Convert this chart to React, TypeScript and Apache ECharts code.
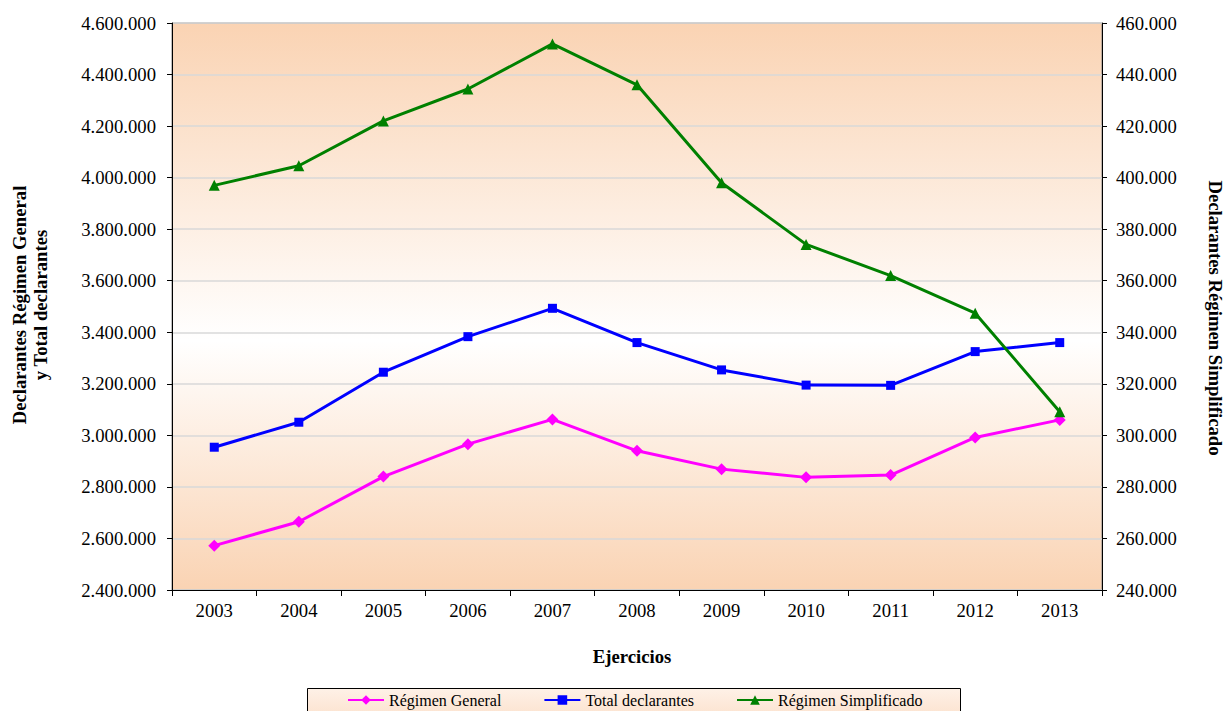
import React, { useEffect, useRef } from "react";
import * as echarts from "echarts";

const years = ["2003", "2004", "2005", "2006", "2007", "2008", "2009", "2010", "2011", "2012", "2013"];
const regimenGeneral = [2572000, 2665000, 2840000, 2966000, 3062000, 2940000, 2869000, 2837000, 2846000, 2992000, 3060000];
const totalDeclarantes = [2954000, 3051000, 3245000, 3383000, 3493000, 3360000, 3254000, 3195000, 3194000, 3325000, 3360000];
const regimenSimplificado = [397000, 404600, 422000, 434400, 451900, 436000, 398000, 374100, 362000, 347400, 309200];

const FONT = "'Liberation Serif', 'Times New Roman', serif";

// 4600000 -> "4.600.000"
const fmt = (v: number) => String(Math.round(v)).replace(/\B(?=(\d{3})+(?!\d))/g, ".");

export default function App() {
  const ref = useRef<HTMLDivElement>(null);

  useEffect(() => {
    if (!ref.current) return;
    const chart = echarts.init(ref.current, undefined, { renderer: "svg" });
    const peach = "#FAD3B3";
    chart.setOption({
      animation: false,
      backgroundColor: "#ffffff",
      textStyle: { fontFamily: FONT },
      grid: {
        left: 172,
        right: 123,
        top: 23,
        bottom: 121,
        show: true,
        borderColor: "#808080",
        borderWidth: 1,
        backgroundColor: {
          type: "linear",
          x: 0,
          y: 0,
          x2: 0,
          y2: 1,
          colorStops: [
            { offset: 0, color: peach },
            { offset: 0.56, color: "#FFFFFF" },
            { offset: 1, color: peach },
          ],
        },
      },
      legend: {
        left: 347,
        top: 692,
        padding: 0,
        itemWidth: 36,
        itemHeight: 12,
        itemGap: 42,
        textStyle: { fontFamily: FONT, fontSize: 16, color: "#000" },
        data: ["Régimen General", "Total declarantes", "Régimen Simplificado"],
      },
      xAxis: {
        type: "category",
        data: years,
        boundaryGap: true,
        axisLine: { lineStyle: { color: "#000", width: 1 } },
        axisTick: { show: true, length: 6, lineStyle: { color: "#000" } },
        axisLabel: { fontFamily: FONT, fontSize: 18.7, color: "#000", margin: 11 },
        splitLine: { show: false },
      },
      yAxis: [
        {
          type: "value",
          min: 2400000,
          max: 4600000,
          interval: 200000,
          position: "left",
          axisLine: { show: true, lineStyle: { color: "#000", width: 1 } },
          axisTick: { show: true, length: 5, lineStyle: { color: "#000" } },
          axisLabel: { fontFamily: FONT, fontSize: 18.7, color: "#000", margin: 16, formatter: fmt },
          splitLine: { show: true, lineStyle: { color: "#D9D9D9", width: 1.5 } },
        },
        {
          type: "value",
          min: 240000,
          max: 460000,
          interval: 20000,
          position: "right",
          axisLine: { show: true, lineStyle: { color: "#000", width: 1 } },
          axisTick: { show: true, length: 5, lineStyle: { color: "#000" } },
          axisLabel: { fontFamily: FONT, fontSize: 18.7, color: "#000", margin: 14, formatter: fmt },
          splitLine: { show: false },
        },
      ],
      series: [
        {
          name: "Régimen General",
          type: "line",
          yAxisIndex: 0,
          data: regimenGeneral,
          symbol: "diamond",
          symbolSize: 12,
          color: "#FF00FF",
          lineStyle: { color: "#FF00FF", width: 3 },
          itemStyle: { color: "#FF00FF" },
          z: 3,
        },
        {
          name: "Total declarantes",
          type: "line",
          yAxisIndex: 0,
          data: totalDeclarantes,
          symbol: "rect",
          symbolSize: 9,
          color: "#0000FF",
          lineStyle: { color: "#0000FF", width: 3 },
          itemStyle: { color: "#0000FF" },
          z: 3,
        },
        {
          name: "Régimen Simplificado",
          type: "line",
          yAxisIndex: 1,
          data: regimenSimplificado,
          symbol: "triangle",
          symbolSize: 11,
          color: "#008000",
          lineStyle: { color: "#008000", width: 3 },
          itemStyle: { color: "#008000" },
          z: 4,
        },
      ],
      graphic: [
        {
          type: "rect",
          z: -1,
          shape: { x: 307.5, y: 688.5, width: 653, height: 40 },
          style: {
            fill: {
              type: "linear",
              x: 0,
              y: 0,
              x2: 0,
              y2: 1,
              colorStops: [
                { offset: 0, color: "#FEF1E7" },
                { offset: 1, color: "#FBDCC4" },
              ],
            },
            stroke: "#000",
            lineWidth: 1,
          },
        },
        {
          type: "text",
          x: 30,
          y: 305,
          rotation: Math.PI / 2,
          style: {
            text: "Declarantes Régimen General\ny Total declarantes",
            font: `bold 18.7px ${FONT}`,
            fill: "#000",
            align: "center",
            verticalAlign: "middle",
            lineHeight: 21,
          },
        },
        {
          type: "text",
          x: 1215,
          y: 318,
          rotation: -Math.PI / 2,
          style: {
            text: "Declarantes Régimen Simplificado",
            font: `bold 18.7px ${FONT}`,
            fill: "#000",
            align: "center",
            verticalAlign: "middle",
          },
        },
        {
          type: "text",
          x: 632,
          y: 656,
          style: {
            text: "Ejercicios",
            font: `bold 18.7px ${FONT}`,
            fill: "#000",
            align: "center",
            verticalAlign: "middle",
          },
        },
      ],
    });
    return () => chart.dispose();
  }, []);

  return (
    <div
      ref={ref}
      style={{ position: "fixed", left: 0, top: 0, width: 1225, height: 711, background: "#fff" }}
    />
  );
}
